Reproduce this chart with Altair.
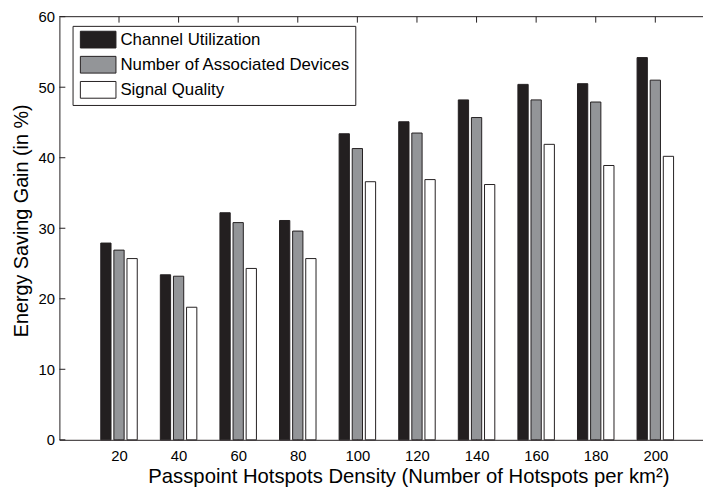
import altair as alt
import pandas as pd

# ---- data ----
densities = [20, 40, 60, 80, 100, 120, 140, 160, 180, 200]
channel_util = [27.9, 23.4, 32.2, 31.1, 43.4, 45.1, 48.2, 50.4, 50.5, 54.2]
assoc_devices = [26.9, 23.2, 30.8, 29.6, 41.3, 43.5, 45.7, 48.2, 47.9, 51.0]
signal_quality = [25.7, 18.8, 24.3, 25.7, 36.6, 36.9, 36.2, 41.9, 38.9, 40.2]
series_names = ["Channel Utilization", "Number of Associated Devices", "Signal Quality"]
series_colors = ["#231f20", "#939598", "#ffffff"]
y_ticks = [0, 10, 20, 30, 40, 50, 60]
x_ticks = densities

rows = []
for i, (name, vals) in enumerate(zip(series_names, [channel_util, assoc_devices, signal_quality])):
    for d, v in zip(densities, vals):
        rows.append({"density": d, "series": name, "idx": i, "value": v})
df = pd.DataFrame(rows)

# ---- layout ----
W, H = 651, 428
X_MAX = 216.0          # x domain right end (plot is cropped on the right)
STEP = 4.4             # data units between bar centres inside a group
BW = 3.45              # bar width in data units
FONT = "Liberation Sans"
INK = "#231f20"
TICK = 6

xscale = alt.Scale(domain=[0, X_MAX], nice=False, zero=False)
yscale = alt.Scale(domain=[0, 60], nice=False)
xaxis = alt.Axis(values=x_ticks, title="Passpoint Hotspots Density (Number of Hotspots per km²)",
                 titlePadding=3.5, labelPadding=9, titleX=353, titleFontSize=20.5)
yaxis = alt.Axis(values=y_ticks, title="Energy Saving Gain (in %)", titlePadding=7, labelPadding=5,
                 titleY=206, titleFontSize=20)

bars = alt.Chart(df).transform_calculate(
    x1=f"datum.density + (datum.idx - 1) * {STEP} - {BW / 2}",
    x2=f"datum.density + (datum.idx - 1) * {STEP} + {BW / 2}",
).mark_bar(stroke=INK, strokeWidth=1).encode(
    x=alt.X("x1:Q", scale=xscale, axis=xaxis),
    x2="x2:Q",
    y=alt.Y("value:Q", scale=yscale, axis=yaxis),
    y2=alt.datum(0),
    color=alt.Color("series:N", scale=alt.Scale(domain=series_names, range=series_colors),
                    legend=alt.Legend(title=None, orient="none", legendX=13.3, legendY=9.3,
                                      symbolType="M-2,-0.94H2V0.94H-2Z", symbolSize=324,
                                      symbolStrokeColor=INK, symbolStrokeWidth=1, symbolOpacity=1,
                                      fillColor="white", strokeColor=INK, padding=4.4,
                                      rowPadding=4.4, labelFontSize=17, labelFont=FONT,
                                      labelColor="black", labelOffset=13, symbolOffset=12,
                                      labelLimit=500,
                                      labelExpr="datum.label + '   '")),
)

ytick_df = pd.DataFrame({"v": y_ticks})
xtick_df = pd.DataFrame({"v": x_ticks})

y_ticks_left = alt.Chart(ytick_df).mark_rule(color=INK).encode(
    y=alt.Y("v:Q", scale=yscale, axis=yaxis), x=alt.value(0), x2=alt.value(TICK))
x_ticks_top = alt.Chart(xtick_df).mark_rule(color=INK).encode(
    x=alt.X("v:Q", scale=xscale, axis=xaxis), y=alt.value(0), y2=alt.value(TICK))
x_ticks_bottom = alt.Chart(xtick_df).mark_rule(color=INK).encode(
    x=alt.X("v:Q", scale=xscale, axis=xaxis), y=alt.value(H), y2=alt.value(H - TICK))
top_border = alt.Chart(pd.DataFrame({"v": [0]})).mark_rule(color=INK).encode(
    x=alt.value(0), x2=alt.value(W), y=alt.value(0))

chart = alt.layer(x_ticks_bottom, bars, y_ticks_left, x_ticks_top, top_border).properties(
    width=W, height=H,
    autosize=alt.AutoSizeParams(type="none"),
    padding={"left": 52, "top": 6, "right": 0, "bottom": 50},
).configure_view(stroke=None).configure_axis(
    grid=False, ticks=False, domainColor=INK, domainWidth=1,
    labelFont=FONT, labelFontSize=15, labelColor="black",
    titleFont=FONT, titleFontWeight="normal", titleColor="black",
)

chart.save("out.html", embed_options={"renderer": "svg", "actions": False})
